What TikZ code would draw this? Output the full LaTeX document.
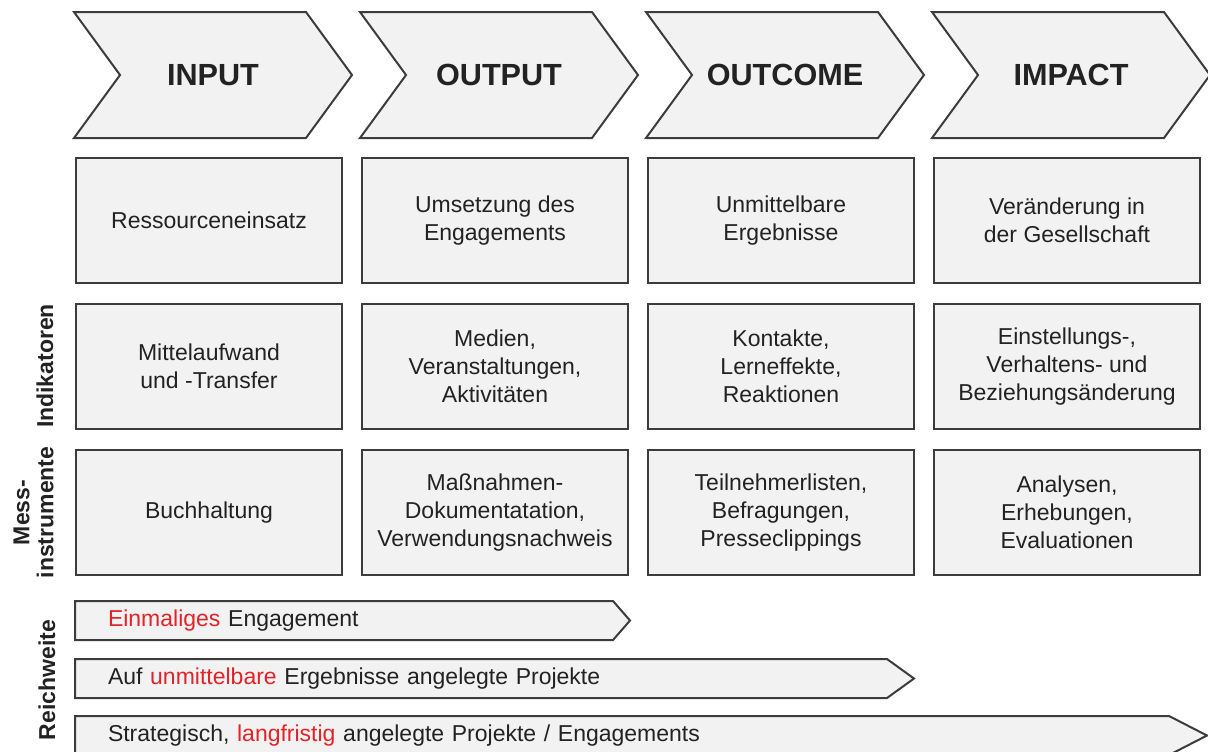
\documentclass[tikz,border=0pt]{standalone}
\usepackage{fontspec}
\setmainfont{Liberation Sans}
\usetikzlibrary{shapes.symbols,positioning}

\definecolor{boxfill}{RGB}{242,242,242}
\definecolor{boxline}{RGB}{60,60,60}
\definecolor{txt}{RGB}{34,34,34}
\definecolor{hl}{RGB}{226,35,40}

\begin{document}
\begin{tikzpicture}[node distance=73pt and 143pt,on grid,
  phase/.style={signal,signal from=west,signal to=east,signal pointer angle=107.7,
    draw=boxline,fill=boxfill,line width=1pt,minimum width=139pt,minimum height=63pt,
    inner sep=0pt,font=\fontsize{15.3}{18}\selectfont\bfseries,text=txt},
  cell/.style={rectangle,draw=boxline,fill=boxfill,line width=1pt,minimum width=133pt,
    minimum height=62.75pt,align=center,inner sep=2pt,font=\fontsize{11.5}{14}\selectfont,text=txt},
  side/.style={rotate=90,align=center,font=\fontsize{11.5}{12}\selectfont\bfseries,text=txt},
  reach/.style={signal,signal to=east,draw=boxline,fill=boxfill,line width=1pt,
    minimum height=19.5pt,inner xsep=16.5pt,inner ysep=0pt,align=left,anchor=west,
    font=\fontsize{11.5}{14}\selectfont,text=txt}]
\useasboundingbox (0,0) rectangle (604pt,-375.5pt);

\node[phase] (INPUT) at (106.5pt,-37.5pt) {INPUT};
\node[phase] (OUTPUT) [right=of INPUT] {OUTPUT};
\node[phase] (OUTCOME) [right=of OUTPUT] {OUTCOME};
\node[phase] (IMPACT) [right=of OUTCOME] {IMPACT};

\node[cell] (input_1) at (104.5pt,-110.25pt) {Ressourceneinsatz};
\node[cell] (output_1) [right=of input_1] {Umsetzung des\\Engagements};
\node[cell] (outcome_1) [right=of output_1] {Unmittelbare\\Ergebnisse};
\node[cell] (impact_1) [right=of outcome_1] {Veränderung in\\der Gesellschaft};

\node[cell] (input_2) [below=of input_1] {Mittelaufwand\\und -Transfer};
\node[cell] (output_2) [right=of input_2] {Medien,\\Veranstaltungen,\\Aktivitäten};
\node[cell] (outcome_2) [right=of output_2] {Kontakte,\\Lerneffekte,\\Reaktionen};
\node[cell] (impact_2) [right=of outcome_2] {Einstellungs-,\\Verhaltens- und\\Beziehungsänderung};

\node[cell] (input_3) [below=of input_2] {Buchhaltung};
\node[cell] (output_3) [right=of input_3] {Maßnahmen-\\Dokumentatation,\\Verwendungsnachweis};
\node[cell] (outcome_3) [right=of output_3] {Teilnehmerlisten,\\Befragungen,\\Presseclippings};
\node[cell] (impact_3) [right=of outcome_3] {Analysen,\\Erhebungen,\\Evaluationen};

\node[side] (indikatoren) at (22.5pt,-183pt) {Indikatoren};
\node[side] (messinstrumente) at (16.75pt,-256.25pt) {Mess-\\instrumente};
\node[side] (reichweite) at (23.5pt,-340pt) {Reichweite};

\node[reach,signal pointer angle=97.8,text width=236pt] (reach_1) at (37pt,-310.25pt)
  {\textcolor{hl}{Einmaliges} Engagement};
\node[reach,signal pointer angle=71.7,text width=373pt] (reach_2) at (37pt,-339.25pt)
  {Auf \textcolor{hl}{unmittelbare} Ergebnisse angelegte Projekte};
\node[reach,signal pointer angle=54.3,text width=514pt] (reach_3) at (37pt,-367.75pt)
  {Strategisch, \textcolor{hl}{langfristig} angelegte Projekte / Engagements};
\end{tikzpicture}
\end{document}
